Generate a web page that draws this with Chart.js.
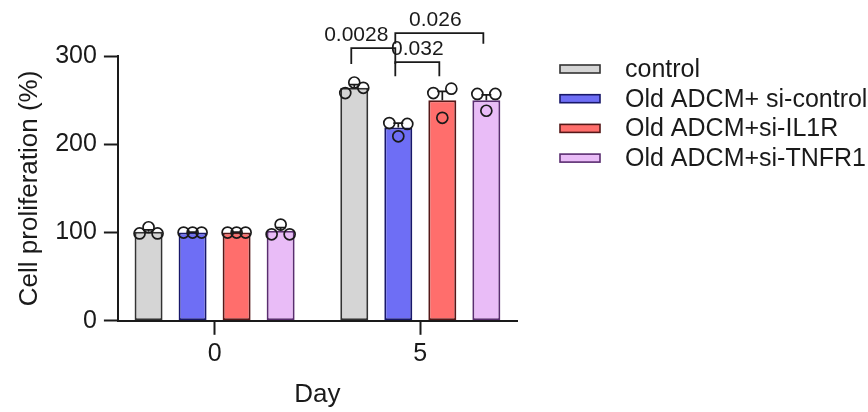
<!DOCTYPE html>
<html>
<head>
<meta charset="utf-8">
<script src="https://cdn.jsdelivr.net/npm/chart.js@4.4.1/dist/chart.umd.min.js"></script>
<style>
  html, body { margin: 0; padding: 0; background: #fff; }
  #wrap { width: 868px; height: 412px; position: relative; }
</style>
</head>
<body>
<div id="wrap"><canvas id="c"></canvas></div>
<script>
/* values */
var DAYS = ['0', '5'];
var GROUPS = ['control', 'Old ADCM+ si-control', 'Old ADCM+si-IL1R', 'Old ADCM+si-TNFR1'];
var MEANS = [[101, 264], [100, 219], [100, 250], [102, 250]];
var SEM = [[2, 3.5], [0.5, 5], [0.5, 10], [3.5, 6]];
// three replicates per bar, left / middle / right
var REPS = [
  [[99, 106, 99], [258, 270, 264]],
  [[100, 100, 100], [224, 209, 223]],
  [[100, 100, 100], [258, 230, 263]],
  [[98, 109, 98], [257, 238, 257]]
];
// significance brackets on day 5
var SIG_PAIRS = [[0, 1], [1, 2], [1, 3]];
var SIG_P = ['0.0028', '0.032', '0.026'];
var SIG_TOP = [309, 293, 326];
var SIG_FOOT = [291, 277, 314];

var FILLS = ['#d5d5d5', '#6e6ef5', '#ff6e6c', '#e9bcf7'];
var EDGES = ['#333333', '#18186a', '#551818', '#5a2d70'];
var INK = '#1a1a1a';
var FAMILY = "'Liberation Sans', Arial, sans-serif";
var JITTER = [-9, 0, 9];
var SIG_DX = [-17, 0, -4];

/* error bars (upper SEM), replicate circles and p-value brackets */
var marks = {
  id: 'marks',
  afterDatasetsDraw: function (c) {
    var g = c.ctx, y = c.scales.y;
    g.save();
    g.strokeStyle = INK;
    g.lineWidth = 1.7;
    c.data.datasets.forEach(function (ds, i) {
      c.getDatasetMeta(i).data.forEach(function (bar, d) {
        var top = y.getPixelForValue(MEANS[i][d] + SEM[i][d]);
        g.beginPath();
        g.moveTo(bar.x, bar.y);
        g.lineTo(bar.x, top);
        g.moveTo(bar.x - 5, top);
        g.lineTo(bar.x + 5, top);
        g.stroke();
        REPS[i][d].forEach(function (v, k) {
          g.beginPath();
          g.arc(bar.x + JITTER[k], y.getPixelForValue(v), 5.5, 0, Math.PI * 2);
          g.stroke();
        });
      });
    });
    g.font = '21px ' + FAMILY;
    g.fillStyle = INK;
    g.textAlign = 'center';
    g.textBaseline = 'bottom';
    g.lineWidth = 1.8;
    SIG_PAIRS.forEach(function (p, k) {
      var xa = c.getDatasetMeta(p[0]).data[1].x - 3;
      var xb = c.getDatasetMeta(p[1]).data[1].x - 3;
      var yt = y.getPixelForValue(SIG_TOP[k]);
      var yf = y.getPixelForValue(SIG_FOOT[k]);
      g.beginPath();
      g.moveTo(xa, yf);
      g.lineTo(xa, yt);
      g.lineTo(xb, yt);
      g.lineTo(xb, yf);
      g.stroke();
      g.fillText(SIG_P[k], (xa + xb) / 2 + SIG_DX[k], yt - 2);
    });
    g.restore();
  }
};

/* legend to the right: wide flat swatches, like the original */
var sideLegend = {
  id: 'sideLegend',
  afterDraw: function (c) {
    var g = c.ctx;
    var x0 = c.chartArea.right + 43, y0 = 69, step = 29.7;
    g.save();
    g.font = '25px ' + FAMILY;
    g.textAlign = 'left';
    g.textBaseline = 'middle';
    GROUPS.forEach(function (name, i) {
      var yy = y0 + i * step;
      g.fillStyle = FILLS[i];
      g.fillRect(x0, yy - 4, 40, 8);
      g.strokeStyle = EDGES[i];
      g.lineWidth = 1.6;
      g.strokeRect(x0, yy - 4, 40, 8);
      g.fillStyle = INK;
      g.fillText(name, x0 + 65, yy + 1);
    });
    g.restore();
  }
};

var datasets = GROUPS.map(function (name, i) {
  return {
    label: name,
    data: MEANS[i].map(function (v, d) { return { x: d, y: v }; }),
    backgroundColor: FILLS[i],
    borderColor: EDGES[i],
    borderWidth: 2,
    borderSkipped: false,
    categoryPercentage: 0.856,
    barPercentage: 0.636
  };
});

new Chart(document.getElementById('c'), {
  type: 'bar',
  data: { datasets: datasets },
  plugins: [marks, sideLegend],
  options: {
    responsive: true,
    maintainAspectRatio: false,
    animation: false,
    layout: { padding: { top: 56, right: 351, bottom: 0, left: 0 } },
    plugins: {
      tooltip: { enabled: false },
      legend: { display: false }
    },
    scales: {
      x: {
        type: 'linear',
        offset: false,
        min: -0.47,
        max: 1.47,
        grid: { offset: false, drawOnChartArea: false, tickLength: 14, tickWidth: 2, tickColor: INK },
        border: { color: INK, width: 2 },
        ticks: {
          stepSize: 1,
          includeBounds: false,
          padding: 4,
          color: INK,
          font: { family: FAMILY, size: 25 },
          callback: function (v) { return DAYS[v] !== undefined ? DAYS[v] : ''; }
        },
        title: {
          display: true, text: 'Day', color: INK,
          font: { family: FAMILY, size: 26 },
          padding: { top: 6, bottom: 2 }
        }
      },
      y: {
        min: 0,
        max: 300,
        grid: { drawOnChartArea: false, tickLength: 14, tickWidth: 2, tickColor: INK },
        border: { color: INK, width: 2 },
        ticks: {
          stepSize: 100,
          padding: 7,
          color: INK,
          font: { family: FAMILY, size: 25 }
        },
        title: {
          display: true, text: 'Cell proliferation (%)', color: INK,
          font: { family: FAMILY, size: 26 },
          padding: { top: 14, bottom: 3 }
        }
      }
    }
  }
});
</script>
</body>
</html>
